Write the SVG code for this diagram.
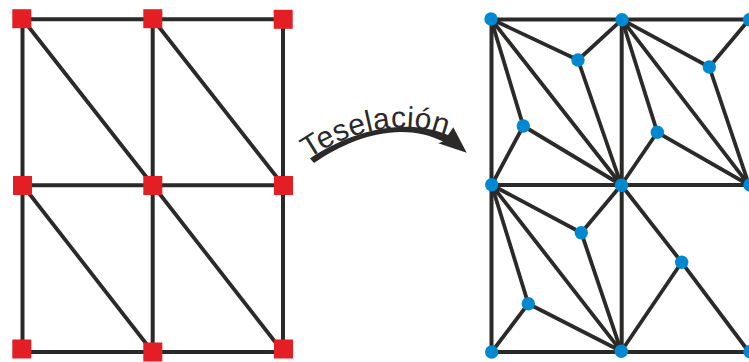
<svg xmlns="http://www.w3.org/2000/svg" width="749" height="362" viewBox="0 0 749 362">
<style>
.e{stroke:#2b2a29;stroke-width:4;fill:none}
.d{stroke:#2b2a29;stroke-width:3.8;fill:none}
.s{fill:#e31e24}
.c{fill:#0089d0}
.t{font-family:"Liberation Sans",Arial,sans-serif;font-size:30px;letter-spacing:.3px;fill:#2b2a29}
</style>
<defs><path id="tp" d="M309 158.5C345 134 400 115 452 138"/></defs>
<g id="connectors">
<path class="e" d="M22.5 19.3H283M22.5 185.3H283M22.5 352H283M22.5 19V352M152.7 19V352M283 19V352"/>
<path class="d" d="M22.5 19L152.7 185M152.7 19L283 185M22.5 185L152.7 352M152.7 185L283 352"/>
<path class="e" d="M491.5 19.5H749M491.5 185H749M491.5 352H749M491.5 19V352M621.7 19V352"/>
<path class="d" d="M491 19L621.3 185M491 19L578 60M622 19.7L578 60M578 60L621.3 185M491 19L523.3 126M523.3 126L491.7 185M523.3 126L621.3 185"/>
<path class="d" d="M622 19.7L749 185M622 19.7L709.3 67M749 19.7L709.3 67M709.3 67L749 185M622 19.7L657.3 132.3M657.3 132.3L621.3 185M657.3 132.3L749 185"/>
<path class="d" d="M491.7 185L621.3 351.3M491.7 185L581.3 232.7M621.3 185L581.3 232.7M581.3 232.7L621.3 351.3M491.7 185L528.3 303.7M528.3 303.7L491.7 352M528.3 303.7L621.3 351.3"/>
<path class="d" d="M621.3 185L681.7 262.3M681.7 262.3L621.3 351.3M681.7 262.3L749 352"/>
</g>
<g id="arrow"><path fill="#2b2a29" d="M310 158.5C345 135 400 115 448 135L453.3 127.3L466.7 152.7L438.3 143.3L443 141.5C400 120 350 138 314 163Z"/></g>
<g id="label"><text class="t"><textPath href="#tp">Teselación</textPath></text></g>
<g id="n1"><rect class="s" x="12.3" y="9.2" width="19" height="19"/></g>
<g id="n2"><rect class="s" x="143.3" y="9.2" width="19" height="19"/></g>
<g id="n3"><rect class="s" x="273.7" y="9.8" width="19" height="19"/></g>
<g id="n4"><rect class="s" x="13" y="176" width="19" height="19"/></g>
<g id="n5"><rect class="s" x="143.3" y="176" width="19" height="19"/></g>
<g id="n6"><rect class="s" x="274" y="176" width="19" height="19"/></g>
<g id="n7"><rect class="s" x="12.3" y="339.5" width="19" height="19"/></g>
<g id="n8"><rect class="s" x="143.3" y="342.5" width="19" height="19"/></g>
<g id="n9"><rect class="s" x="274" y="339.5" width="19" height="19"/></g>
<g id="m1"><circle class="c" cx="491" cy="19" r="6.7"/></g>
<g id="m2"><circle class="c" cx="622" cy="19.7" r="6.7"/></g>
<g id="m3"><circle class="c" cx="749.5" cy="19.7" r="6.7"/></g>
<g id="m4"><circle class="c" cx="578" cy="60" r="6.7"/></g>
<g id="m5"><circle class="c" cx="709.3" cy="67" r="6.7"/></g>
<g id="m6"><circle class="c" cx="523.3" cy="126" r="6.7"/></g>
<g id="m7"><circle class="c" cx="657.3" cy="132.3" r="6.7"/></g>
<g id="m8"><circle class="c" cx="491.7" cy="184.7" r="6.7"/></g>
<g id="m9"><circle class="c" cx="621.5" cy="185.3" r="6.7"/></g>
<g id="m10"><circle class="c" cx="750" cy="185" r="6.7"/></g>
<g id="m11"><circle class="c" cx="581.3" cy="232.7" r="6.7"/></g>
<g id="m12"><circle class="c" cx="681.7" cy="262.3" r="6.7"/></g>
<g id="m13"><circle class="c" cx="528.3" cy="303.7" r="6.7"/></g>
<g id="m14"><circle class="c" cx="491.7" cy="352" r="6.7"/></g>
<g id="m15"><circle class="c" cx="621.3" cy="351.3" r="6.7"/></g>
<g id="m16"><circle class="c" cx="750" cy="351.7" r="6.7"/></g>
</svg>
